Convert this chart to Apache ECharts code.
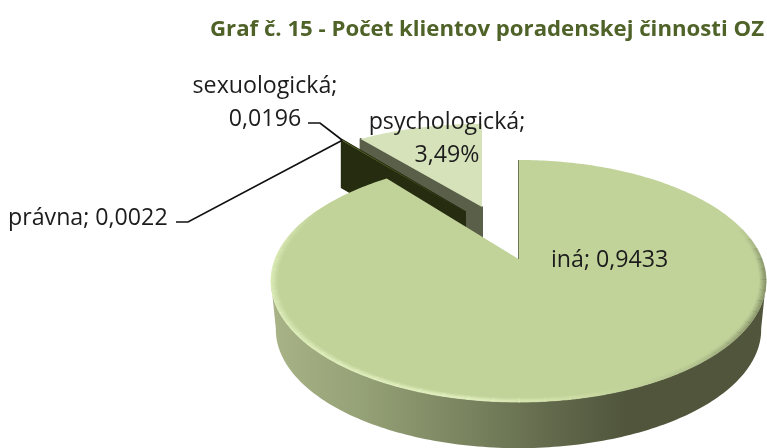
<!DOCTYPE html>
<html><head><meta charset="utf-8">
<style>html,body{margin:0;padding:0;background:#fff}#c{width:767px;height:448px}</style>
<script src="https://cdn.jsdelivr.net/npm/echarts@6/dist/echarts.min.js"></script>
</head><body><div id="c"></div>
<script>
// ---- data (draw order = counter-clockwise from 12 o'clock) ----
const categories = ['psychologická', 'sexuologická', 'právna', 'iná'];
const shares = [0.0349, 0.0196, 0.0022, 0.9433];
const labelValues = ['3,49%', '0,0196', '0,0022', '0,9433'];
const titleText = 'Graf č. 15 - Počet klientov poradenskej činnosti OZ';

// ---- layout / projection constants ----
const FONT = '"Open Sans", Carlito, Calibri, sans-serif';
const PROJ = {d: 243.5, a: 117, c: -0.1818};           // perspective tilt of the disc
const DEPTH = 47;
const APEX = [[482, 207], [465, 212], [465, 212], [518.5, 259]];
const SCALE = [[0.93, 0.84], [0.935, 0.89], [0.935, 0.89], [1, 1]];
const FACE = ['#d6e2ba', '#4f6228', '#76923c', '#c2d39a'];
const WALL = ['#5a5f4a', '#262c10', '#262c10', null];
// how the exaggerated 3D view spreads the cumulative share to on-screen sweep
const WARP = [[0, 0], [0.0349, 37.8], [0.0545, 38.0], [0.0567, 38.2], [1, 360]];

function warp(t) {
  for (let i = 1; i < WARP.length; i++) {
    if (t <= WARP[i][0] + 1e-9) {
      const [a, b] = [WARP[i - 1], WARP[i]];
      return a[1] + (b[1] - a[1]) * (t - a[0]) / (b[0] - a[0]);
    }
  }
  return 360;
}
function project(deg, i, dy, k) {
  // deg: counter-clockwise from top
  const r = deg * Math.PI / 180, u = -Math.sin(r), v = -Math.cos(r);
  const den = 1 + PROJ.c * v;
  const s = SCALE[i], z = k || 1;
  return [APEX[i][0] + PROJ.d * u / den * s[0] * z, APEX[i][1] + PROJ.a * v / den * s[1] * z + (dy || 0)];
}
function arc(from, to, i, dy, k) {
  const pts = [], n = Math.max(2, Math.ceil(Math.abs(to - from)));
  for (let j = 0; j <= n; j++) pts.push(project(from + (to - from) * j / n, i, dy, k));
  return pts;
}
const cum = []; shares.reduce((acc, v, i) => (cum[i] = [acc, acc + v], acc + v), 0);

const wallFill = {type: 'linear', x: 272, y: 0, x2: 766, y2: 0, global: true, colorStops: [
  {offset: 0, color: '#a8b387'}, {offset: 0.18, color: '#95a176'}, {offset: 0.38, color: '#7b8661'},
  {offset: 0.58, color: '#60674a'}, {offset: 0.72, color: '#50553b'}, {offset: 1, color: '#50553b'}]};
const rimStroke = {type: 'linear', x: 272, y: 0, x2: 766, y2: 0, global: true, colorStops: [
  {offset: 0, color: '#e2f1be'}, {offset: 0.4, color: '#e4f2c2'}, {offset: 0.56, color: '#d6e5ae'},
  {offset: 0.72, color: '#c2d39a'}, {offset: 0.86, color: '#aebd8b'}, {offset: 1, color: '#75805a'}]};

function smooth(a, b, x) { const t = Math.min(1, Math.max(0, (x - a) / (b - a))); return t * t * (3 - 2 * t); }

function renderSlice(params, api) {
  const i = params.dataIndex;
  const value = api.value(0);
  const start = warp(cum[i][0]), end = warp(cum[i][0] + value);
  const kids = [];
  const top = arc(start, end, i);
  if (WALL[i]) {
    const a = project(end, i), b = APEX[i];
    kids.push({type: 'polygon', shape: {points: [a, b, [b[0], b[1] + DEPTH], [a[0], a[1] + DEPTH]]},
      style: {fill: WALL[i], stroke: WALL[i], lineWidth: 2, lineJoin: 'round'}});
  } else {
    // front wall of the big slice: between the disc silhouette extremes
    kids.push({type: 'polygon', shape: {points: arc(100, 260, i).concat(arc(260, 100, i, 49, 0.98))},
      style: {fill: wallFill}});
  }
  kids.push({type: 'polygon', shape: {points: top.concat([APEX[i]])}, style: {fill: FACE[i]}});
  if (!WALL[i]) {
    // soft bevel along the front rim, drawn as fading inset rings
    for (let ring = 0; ring < 6; ring++) {
      const k = 0.998 - ring * 0.0048;
      const fade = 0.7 * Math.pow(1 - ring / 6, 1.3);
      for (let p = 60; p < 290; p += 5) {
        const env = smooth(60, 98, p + 2.5) * (1 - smooth(262, 290, p + 2.5));
        if (env <= 0.01) continue;
        kids.push({type: 'polyline', shape: {points: arc(p, p + 5.3, i, 0, k)},
          style: {fill: null, stroke: rimStroke, lineWidth: 1.6, opacity: fade * env}});
      }
    }
    kids.push({type: 'polyline', shape: {points: [APEX[i], project(end, i)]},
      style: {fill: null, stroke: '#6f7758', lineWidth: 1}});
  }
  return {type: 'group', children: kids};
}

// labels + leader lines
const TEXT = [
  {x: 447, y: 122.5, align: 'center', lines: [categories[0] + ';', labelValues[0]]},
  {x: 265, y: 86.5, align: 'center', lines: [categories[1] + ';', labelValues[1]]},
  {x: 8, y: 218.5, align: 'left', lines: [categories[2] + '; ' + labelValues[2]]},
  {x: 551, y: 260, align: 'left', lines: [categories[3] + '; ' + labelValues[3]]}
];
const LEADER = {1: [[308, 123], [320, 123]], 2: [[176, 222], [188, 222]]};

function renderLabel(params, api) {
  const i = params.dataIndex, t = TEXT[i], kids = [];
  t.lines.forEach((line, n) => kids.push({type: 'text', style: {
    text: line, x: t.x, y: t.y + n * 33, align: t.align, verticalAlign: 'middle',
    font: '23.2px ' + FONT, fill: '#1c1c1c'}}));
  if (LEADER[i]) {
    const tip = project(warp(cum[i][1]), i);
    kids.push({type: 'polyline', shape: {points: LEADER[i].concat([tip])},
      style: {fill: null, stroke: '#111', lineWidth: 1.7}});
  }
  return {type: 'group', children: kids};
}

const chart = echarts.init(document.getElementById('c'), null, {renderer: 'canvas'});
const seriesData = shares.map((v, i) => ({name: categories[i], value: [v]}));
chart.setOption({
  animation: false,
  backgroundColor: '#fff',
  title: {text: titleText, right: 3, top: 19, padding: 0, textStyle: {fontFamily: FONT, fontWeight: 'bold', fontSize: 22.2, color: '#4f6228'}},
  series: [
    {type: 'custom', coordinateSystem: 'none', renderItem: renderSlice, data: seriesData, silent: true, z: 2},
    {type: 'custom', coordinateSystem: 'none', renderItem: renderLabel, data: seriesData, silent: true, z: 3}
  ]
});
</script></body></html>
